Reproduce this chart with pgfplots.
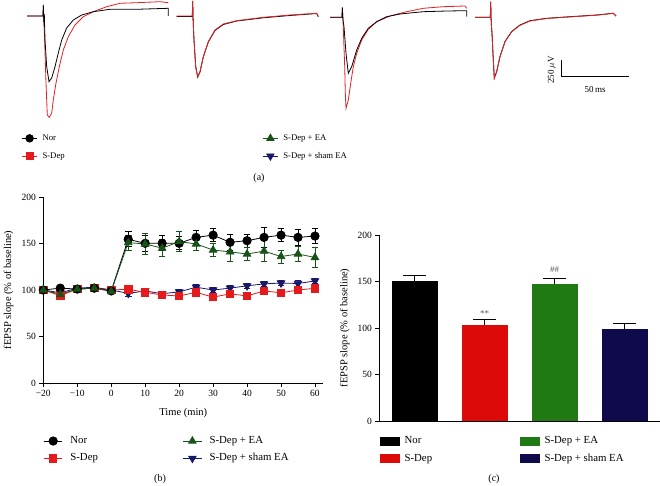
\documentclass[border=0pt]{standalone}
\usepackage{pgfplots}
\pgfplotsset{compat=1.18}
\usepackage{pgfplotstable}
\usepackage{fontspec}
\setmainfont{Liberation Serif}
\definecolor{tred}{RGB}{230,30,34}
\definecolor{lred}{RGB}{228,26,28}
\definecolor{lgreen}{RGB}{24,82,24}
\definecolor{lnavy}{RGB}{24,24,104}
\definecolor{bred}{RGB}{221,10,10}
\definecolor{bgreen}{RGB}{31,122,20}
\definecolor{bnavy}{RGB}{14,10,75}

% panel (b): time course, mean and s.e.m.
\pgfplotstableread{
t m e
-20 100 2
-15 102 2
-10 101 2
-5 102 2
0 99 2
5 154.5 8
10 150.2 9
15 150.2 8
20 150.2 7
25 156.6 8
30 159 7
35 151.3 9
40 153 7
45 156.6 11
50 159 7
55 156.6 9
60 158 8
}\tblNor
\pgfplotstableread{
t m e
-20 100 2
-15 94 2
-10 101 2
-5 102 2
0 100 2
5 100.8 3
10 97.5 3
15 94.6 3
20 93.6 3
25 97.5 3
30 92.3 3
35 95.9 3
40 93.6 3
45 99 3
50 97 3
55 100 3
60 101.8 3
}\tblSDep
\pgfplotstableread{
t m e
-20 100 2
-15 95.4 2
-10 101 2
-5 102 2
0 98.6 2
5 151 8
10 149.5 11
15 145 9
20 152 11
25 149.5 7
30 143 7
35 141 10
40 138.7 7
45 141.8 11
50 136 7
55 138.7 8
60 135 11
}\tblEA
\pgfplotstableread{
t m e
-20 100 2
-15 97 2
-10 102 2
-5 103 2
0 100 2
5 96.4 3
10 99 3
15 96 3
20 98 3
25 103 3
30 100 3
35 102 3
40 104.5 3
45 106.6 3
50 107.5 3
55 107 3
60 109.7 3
}\tblSham
% panel (c): bars
\pgfplotstableread{
g m e
0 150.9 6
1 103.6 6
2 147.7 6
3 98.6 6
}\tblBars

\pgfplotsset{
  legline/.style={line width=0.8pt, legend image code/.code={\draw[mark repeat=2,mark phase=2] plot coordinates {(0pt,0pt) (#1/2,0pt) (#1,0pt)};}},
  legbox/.style={draw=none, legend image code/.code={\fill (0pt,-4.5pt) rectangle (20pt,4.5pt);}},
}

\begin{document}
\begin{tikzpicture}
\path[use as bounding box] (0,0) rectangle (660pt,485pt);

% ---------------- panel (a): traces ----------------
\begin{axis}[
  at={(0pt,360pt)}, anchor=south west,
  scale only axis, width=660pt, height=125pt,
  xmin=0, xmax=660, ymin=-125, ymax=0,
  hide axis, clip=false,
  legend columns=2, legend cell align=left,
  legend style={draw=none, fill=none, inner sep=0pt, outer sep=0pt,
    at={(axis description cs:0.0329,-0.1776)}, anchor=west, row sep=7.9pt,
    nodes={inner xsep=3pt, inner ysep=1pt, text height=5.9pt, text depth=1.9pt, font=\fontsize{8.7}{10}\selectfont},
    /tikz/every odd column/.append style={column sep=2pt}},
]
% trace 1
\addplot[tred, line width=0.8pt, forget plot] coordinates {(27,-16) (43,-16) (43.3,-5) (43.8,-24) (44.3,-30) (46,-83) (47.3,-115) (49.3,-117.3) (51.7,-113) (53.3,-100) (56,-83) (59.3,-66.7) (63.3,-50) (68.3,-36.7) (75,-25) (83.3,-16.7) (93.3,-11.7) (106.7,-6.7) (120,-3.3) (136.7,-2.7) (160,-1.7) (168.3,-2.7)};
\addplot[black, line width=0.8pt, forget plot] coordinates {(27,-16) (43,-16) (43.3,-5) (43.8,-22) (44.3,-14) (45,-40) (46.7,-66.7) (49,-81.7) (51.7,-78) (55,-66.7) (58.3,-53) (61.7,-40) (66.7,-28) (73.3,-20) (81.7,-15) (93.3,-11.7) (110,-9.3) (136.7,-9.3) (168.3,-8.3) (168.3,-16)};
% trace 2
\addplot[black, line width=0.8pt, forget plot] coordinates {(176.7,-16.5) (192.3,-16.5) (192.7,-1) (193.2,-23) (194,-40) (195.7,-66.7) (197.7,-77) (200,-72) (203.3,-57) (208.3,-42) (215,-30.5) (223.3,-24.5) (236.7,-21) (263.3,-17.8) (290,-15.5) (316.7,-13.5) (318.3,-16.7)};
\addplot[tred, line width=0.8pt, forget plot] coordinates {(176.7,-16) (192.3,-16) (192.7,-1) (193.2,-23) (194,-40) (195.7,-67) (197.7,-77.3) (200,-71.7) (203.3,-56.7) (208.3,-41.7) (215,-30) (223.3,-24) (236.7,-20.7) (263.3,-17.3) (290,-15) (316.7,-13.3) (318.3,-16.7)};
% trace 3
\addplot[tred, line width=0.8pt, forget plot] coordinates {(330,-17.3) (342,-17.3) (342.3,-7.3) (343,-20) (344.7,-66.7) (345.3,-93) (346,-108.3) (348.3,-100) (350.7,-83.3) (353.3,-66.7) (356.7,-53.3) (361.7,-40) (368.3,-29.3) (376.7,-21.7) (390,-16) (406.7,-11.7) (423.3,-8.3) (443.3,-6.7) (465,-6) (466.7,-8.3)};
\addplot[black, line width=0.8pt, forget plot] coordinates {(330,-17.3) (342,-17.3) (342.3,-7.3) (343,-20) (344,-26.7) (346,-53.3) (348.3,-73.3) (351.7,-66.7) (356.7,-50) (361.7,-38.3) (368.3,-28.3) (376.7,-21.7) (386.7,-16.7) (400,-14) (423.3,-11.7) (446.7,-11) (466.7,-10.7) (466.7,-16.7)};
% trace 4
\addplot[black, line width=0.8pt, forget plot] coordinates {(475,-17.3) (490.3,-17.3) (490.7,-1.7) (491.2,-23) (492,-33.3) (493.3,-60) (494.3,-78) (496.7,-71.5) (500,-56.5) (505,-41.5) (511.7,-31.5) (520,-25) (530,-20.7) (546.7,-18.3) (570,-16.7) (596.7,-15) (613.3,-13.3) (616,-16)};
\addplot[tred, line width=0.8pt, forget plot] coordinates {(475,-17.3) (490.3,-17.3) (490.7,-1.7) (491.2,-23) (492,-33.3) (493.3,-60) (494.3,-78.3) (496.7,-71.7) (500,-56.7) (505,-41.7) (511.7,-31.7) (520,-25.3) (530,-21) (546.7,-18.5) (570,-16.9) (596.7,-15.2) (613.3,-13.3) (616,-16)};
% scale bar
\addplot[black, line width=0.8pt, forget plot] coordinates {(561,-60) (561,-76) (629.3,-76)};
\node[rotate=90, font=\fontsize{9}{10}\selectfont] at (axis cs:551.7,-70) {250\,$\mu$V};
\node[font=\fontsize{9}{10}\selectfont] at (axis cs:595,-89.3) {50\,ms};
% legend
\addlegendimage{legline=15pt, black, mark=*, mark size=3.8pt}
\addlegendentry{\makebox[217pt][l]{Nor}}
\addlegendimage{legline=15pt, lgreen, mark=triangle*, mark size=4.2pt}
\addlegendentry{S-Dep + EA}
\addlegendimage{legline=15pt, lred, mark=square*, mark size=3.4pt}
\addlegendentry{\makebox[217pt][l]{S-Dep}}
\addlegendimage{legline=15pt, lnavy, mark=triangle*, mark size=4.2pt, mark options={rotate=180}}
\addlegendentry{S-Dep + sham EA}
\end{axis}
\node[font=\fontsize{10}{12}\selectfont] at (259pt,307pt) {(a)};

% ---------------- panel (b): time course ----------------
\begin{axis}[
  at={(43.3pt,102pt)}, anchor=south west,
  scale only axis, width=280pt, height=186pt,
  xmin=-20, xmax=62.45, ymin=0, ymax=200,
  axis lines*=left, clip=false,
  axis line style={line width=0.8pt},
  tick style={line width=0.8pt, black},
  major tick length=4pt, tick align=outside,
  xtick={-20,-10,...,60},
  xticklabels={−20,−10,0,10,20,30,40,50,60},
  ytick={0,50,100,150,200},
  /pgf/number format/assume math mode=true,
  tick label style={font=\fontsize{9.5}{11}\selectfont},
  xlabel={Time (min)},
  ylabel={fEPSP slope (\% of baseline)},
  label style={font=\fontsize{10.5}{12}\selectfont},
  xlabel style={at={(axis description cs:0.5,-0.163)}, anchor=center},
  ylabel style={at={(axis description cs:-0.1237,0.5)}, anchor=center},
  legend columns=2, legend cell align=left,
  legend style={draw=none, fill=none, inner sep=0pt, outer sep=0pt,
    at={(axis description cs:0.001,-0.3586)}, anchor=west, row sep=5.8pt,
    nodes={inner xsep=3pt, inner ysep=1pt, text height=7.2pt, text depth=2.3pt, font=\fontsize{10.8}{12}\selectfont},
    /tikz/every odd column/.append style={column sep=4.6pt}},
]
\addplot[lnavy, line width=0.8pt, mark=triangle*, mark size=4.3pt, mark options={rotate=180}, forget plot,
  error bars/.cd, y dir=both, y explicit, error bar style={line width=0.8pt}, error mark options={rotate=90, mark size=3.3pt, line width=0.8pt}]
  table[x=t, y=m, y error=e] {\tblSham};
\addplot[lred, line width=0.8pt, mark=square*, mark size=3.7pt, forget plot,
  error bars/.cd, y dir=both, y explicit, error bar style={line width=0.8pt}, error mark options={rotate=90, mark size=3.3pt, line width=0.8pt}]
  table[x=t, y=m, y error=e] {\tblSDep};
\addplot[black, line width=0.8pt, mark=*, mark size=4.2pt, forget plot,
  error bars/.cd, y dir=both, y explicit, error bar style={line width=0.8pt}, error mark options={rotate=90, mark size=3.3pt, line width=0.8pt}]
  table[x=t, y=m, y error=e] {\tblNor};
\addplot[lgreen, line width=0.8pt, mark=triangle*, mark size=4.3pt, forget plot,
  error bars/.cd, y dir=both, y explicit, error bar style={line width=0.8pt}, error mark options={rotate=90, mark size=3.3pt, line width=0.8pt}]
  table[x=t, y=m, y error=e] {\tblEA};
\addlegendimage{legline=18.4pt, black, mark=*, mark size=4.2pt}
\addlegendentry{\makebox[109.4pt][l]{Nor}}
\addlegendimage{legline=18.4pt, lgreen, mark=triangle*, mark size=4.3pt}
\addlegendentry{S-Dep + EA}
\addlegendimage{legline=18.4pt, lred, mark=square*, mark size=3.7pt}
\addlegendentry{\makebox[109.4pt][l]{S-Dep}}
\addlegendimage{legline=18.4pt, lnavy, mark=triangle*, mark size=4.3pt, mark options={rotate=180}}
\addlegendentry{S-Dep + sham EA}
\end{axis}
\node[font=\fontsize{10}{12}\selectfont] at (160pt,6pt) {(b)};

% ---------------- panel (c): bars ----------------
\begin{axis}[
  at={(379.3pt,64pt)}, anchor=south west,
  scale only axis, width=280.7pt, height=186pt,
  xmin=-0.507, xmax=3.507, ymin=0, ymax=200,
  axis lines*=left, clip=false,
  axis line style={line width=0.8pt},
  tick style={line width=0.8pt, black},
  major tick length=4pt, tick align=outside,
  xtick=\empty,
  ytick={0,50,100,150,200},
  /pgf/number format/assume math mode=true,
  tick label style={font=\fontsize{9.5}{11}\selectfont},
  ylabel={fEPSP slope (\% of baseline)},
  label style={font=\fontsize{10.5}{12}\selectfont},
  ylabel style={at={(axis description cs:-0.1228,0.5)}, anchor=center},
  ybar, bar width=46pt,
  legend columns=2, legend cell align=left,
  legend style={draw=none, fill=none, inner sep=0pt, outer sep=0pt,
    at={(axis description cs:0.001,-0.156)}, anchor=west, row sep=5.9pt,
    nodes={inner xsep=3pt, inner ysep=1pt, text height=7.2pt, text depth=2.3pt, font=\fontsize{10.8}{12}\selectfont},
    /tikz/every odd column/.append style={column sep=2pt}},
]
\addplot[fill=black, draw=none, bar shift=0pt, forget plot,
  error bars/.cd, y dir=plus, y explicit, error bar style={black, line width=0.8pt}, error mark options={black, rotate=90, mark size=11.5pt, line width=0.8pt}]
  table[x=g, y=m, y error=e, restrict expr to domain={\thisrow{g}}{0:0}] {\tblBars};
\addplot[fill=bred, draw=none, bar shift=0pt, forget plot,
  error bars/.cd, y dir=plus, y explicit, error bar style={black, line width=0.8pt}, error mark options={black, rotate=90, mark size=11.5pt, line width=0.8pt}]
  table[x=g, y=m, y error=e, restrict expr to domain={\thisrow{g}}{1:1}] {\tblBars};
\addplot[fill=bgreen, draw=none, bar shift=0pt, forget plot,
  error bars/.cd, y dir=plus, y explicit, error bar style={black, line width=0.8pt}, error mark options={black, rotate=90, mark size=11.5pt, line width=0.8pt}]
  table[x=g, y=m, y error=e, restrict expr to domain={\thisrow{g}}{2:2}] {\tblBars};
\addplot[fill=bnavy, draw=none, bar shift=0pt, forget plot,
  error bars/.cd, y dir=plus, y explicit, error bar style={black, line width=0.8pt}, error mark options={black, rotate=90, mark size=11.5pt, line width=0.8pt}]
  table[x=g, y=m, y error=e, restrict expr to domain={\thisrow{g}}{3:3}] {\tblBars};
\node[font=\fontsize{9}{10}\selectfont, text=black!65] at (axis cs:1,116) {**};
\node[font=\fontsize{9}{10}\selectfont, text=black!65] at (axis cs:2,162.4) {\#\#};
\addlegendimage{legbox, fill=black}
\addlegendentry{\makebox[112pt][l]{Nor}}
\addlegendimage{legbox, fill=bgreen}
\addlegendentry{S-Dep + EA}
\addlegendimage{legbox, fill=bred}
\addlegendentry{\makebox[112pt][l]{S-Dep}}
\addlegendimage{legbox, fill=bnavy}
\addlegendentry{S-Dep + sham EA}
\end{axis}
\node[font=\fontsize{10}{12}\selectfont] at (494pt,6pt) {(c)};
\end{tikzpicture}
\end{document}
